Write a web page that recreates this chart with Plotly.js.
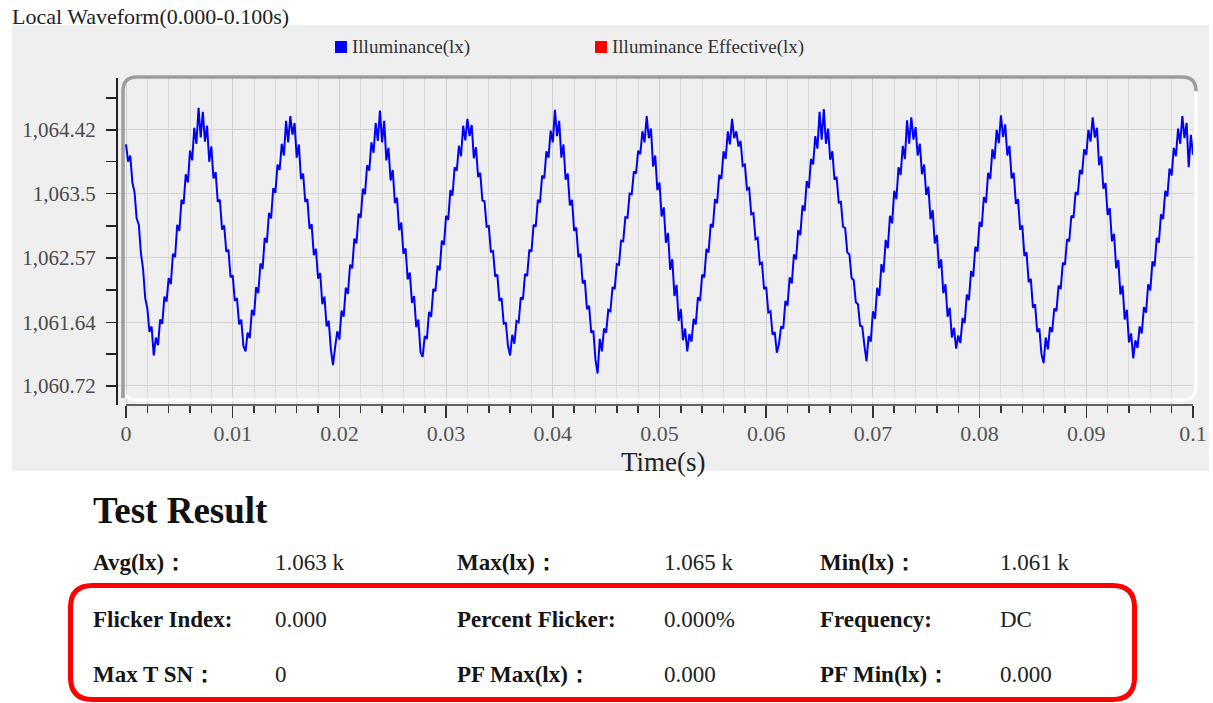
<!DOCTYPE html>
<html>
<head>
<meta charset="utf-8">
<script src="https://cdn.plot.ly/plotly-3.0.1.min.js"></script>
<style>
  html, body { margin: 0; padding: 0; background: #ffffff; }
  #chart { width: 1213px; height: 703px; }
</style>
</head>
<body>
<div id="chart"></div>
<script>
// ---------------- DATA ----------------
const chartTitle = 'Local Waveform(0.000-0.100s)';
const seriesNames = ['Illuminance(lx)', 'Illuminance Effective(lx)'];
const seriesColors = ['#0000ff', '#ff0000'];
const xAxisTitle = 'Time(s)';
const sampleStep = 0.0002; // s between samples (0 .. 0.1 s)

// Illuminance (lx), one sample every 0.2 ms
const illuminanceLux = [
  1064.21,1063.96,1064.05,1063.66,1063.52,1063.14,1063.05,1062.64,1062.41,1061.99,1061.84,1061.50,1061.58,1061.16,
  1061.42,1061.31,1061.68,1061.62,1062.01,1061.94,1062.28,1062.19,1062.63,1062.58,1063.05,1062.96,1063.41,1063.35,1063.78,1063.66,1064.12,1063.98,1064.45,1064.22,1064.74,1064.31,
  1064.68,1064.25,1064.48,1063.96,1064.18,1063.72,1063.81,1063.38,1063.41,1062.98,1063.04,1062.66,1062.69,1062.29,1062.32,1061.95,1061.99,1061.61,1061.68,1061.30,1061.22,
  1061.49,1061.41,1061.82,1061.74,1062.15,1062.06,1062.49,1062.41,1062.86,1062.79,1063.22,1063.14,1063.58,1063.51,1063.92,1063.84,1064.22,1064.05,1064.55,1064.24,1064.62,
  1064.35,1064.52,1064.02,1064.21,1063.71,1063.79,1063.38,1063.42,1062.99,1063.06,1062.61,1062.70,1062.27,1062.35,1061.90,1062.01,1061.58,1061.66,1061.25,1061.02,
  1061.28,1061.51,1061.39,1061.81,1061.72,1062.14,1062.05,1062.47,1062.42,1062.85,1062.78,1063.21,1063.15,1063.57,1063.49,1063.91,1063.83,1064.24,1064.09,1064.52,1064.26,1064.70,
  1064.24,1064.55,1063.98,1064.16,1063.69,1063.84,1063.36,1063.44,1062.97,1063.08,1062.63,1062.71,1062.26,1062.36,1061.92,1062.02,1061.57,1061.68,1061.21,1061.14,
  1061.44,1061.40,1061.79,1061.72,1062.12,1062.09,1062.46,1062.39,1062.82,1062.76,1063.18,1063.12,1063.55,1063.47,1063.88,1063.83,1064.19,1064.04,1064.48,1064.27,1064.58,
  1064.33,1064.49,1064.01,1064.17,1063.74,1063.80,1063.40,1063.39,1063.02,1063.03,1062.66,1062.67,1062.30,1062.33,1061.95,1061.99,1061.62,1061.63,1061.30,1061.16,
  1061.46,1061.33,1061.66,1061.64,1062.00,1061.97,1062.34,1062.31,1062.69,1062.66,1063.05,1063.02,1063.41,1063.37,1063.76,1063.72,1064.11,1064.02,1064.41,1064.24,1064.71,1064.33,
  1064.55,1064.02,1064.21,1063.70,1063.79,1063.33,1063.41,1062.96,1063.01,1062.58,1062.63,1062.20,1062.25,1061.83,1061.88,1061.49,1061.52,1061.10,1060.90,
  1061.40,1061.22,1061.55,1061.49,1061.82,1061.80,1062.15,1062.12,1062.48,1062.47,1062.82,1062.81,1063.16,1063.15,1063.50,1063.49,1063.82,1063.79,1064.12,1064.07,1064.40,1064.24,1064.62,
  1064.30,1064.44,1063.89,1064.05,1063.55,1063.66,1063.17,1063.30,1062.79,1062.93,1062.40,1062.55,1062.02,1062.18,1061.66,1061.83,1061.38,1061.55,1061.22,
  1061.47,1061.36,1061.69,1061.61,1062.00,1061.95,1062.33,1062.29,1062.70,1062.65,1063.06,1063.01,1063.42,1063.36,1063.77,1063.71,1064.11,1064.00,1064.40,1064.21,1064.58,1064.30,
  1064.40,1064.18,1064.26,1063.90,1063.92,1063.56,1063.58,1063.20,1063.22,1062.84,1062.86,1062.48,1062.50,1062.12,1062.15,1061.78,1061.80,1061.46,1061.50,1061.20,
  1061.33,1061.58,1061.55,1061.95,1061.88,1062.29,1062.20,1062.62,1062.55,1062.97,1062.90,1063.33,1063.25,1063.68,1063.58,1064.00,1063.92,1064.33,1064.15,1064.68,1064.28,
  1064.72,1064.22,1064.44,1063.99,1064.11,1063.70,1063.74,1063.37,1063.38,1063.02,1063.00,1062.65,1062.62,1062.28,1062.25,1061.93,1061.90,1061.59,1061.58,1061.31,1061.08,
  1061.44,1061.36,1061.80,1061.69,1062.14,1062.02,1062.48,1062.36,1062.83,1062.71,1063.18,1063.07,1063.54,1063.42,1063.88,1063.77,1064.19,1064.00,1064.56,1064.22,1064.60,
  1064.28,1064.46,1064.05,1064.22,1063.78,1063.92,1063.48,1063.60,1063.13,1063.26,1062.78,1062.90,1062.42,1062.55,1062.06,1062.19,1061.72,1061.85,1061.42,1061.56,1061.26,
  1061.45,1061.34,1061.70,1061.63,1062.04,1061.96,1062.38,1062.30,1062.73,1062.66,1063.09,1063.02,1063.45,1063.37,1063.80,1063.71,1064.14,1064.00,1064.42,1064.23,1064.63,1064.32,
  1064.50,1064.05,1064.19,1063.72,1063.80,1063.35,1063.42,1062.98,1063.04,1062.60,1062.65,1062.22,1062.27,1061.85,1061.90,1061.50,1061.55,1061.18,1061.05,
  1061.42,1061.25,1061.57,1061.50,1061.84,1061.80,1062.17,1062.12,1062.50,1062.47,1062.84,1062.81,1063.18,1063.15,1063.52,1063.48,1063.84,1063.78,1064.14,1064.06,1064.42,1064.25,1064.60,
  1064.31,1064.45,1063.91,1064.04,1063.57,1063.65,1063.19,1063.29,1062.81,1062.92,1062.42,1062.54,1062.04,1062.17,1061.68,1061.82,1061.35,1061.48,1061.12,
  1061.38,1061.27,1061.58,1061.48,1061.86,1061.78,1062.19,1062.10,1062.52,1062.45,1062.86,1062.79,1063.20,1063.13,1063.54,1063.46,1063.86,1063.76,1064.16,1064.04,1064.44,1064.22,1064.62,
  1064.30,1064.52,1063.88,1064.35,1064.06
];
// Illuminance Effective (lx): no samples drawn in this window
const illuminanceEffectiveLux = [];

const yTickVals = [1060.72, 1061.64, 1062.57, 1063.5, 1064.42];
const yTickText = ['1,060.72', '1,061.64', '1,062.57', '1,063.5', '1,064.42'];
const yMinorTickVals = [1061.18, 1062.105, 1063.035, 1063.96, 1064.88];

const resultHeading = 'Test Result';
const summaryLabels = ['Avg(lx)：', 'Max(lx)：', 'Min(lx)：'];
const summaryValues = ['1.063 k', '1.065 k', '1.061 k'];
const flickerLabels = ['Flicker Index:', 'Percent Flicker:', 'Frequency:'];
const flickerValues = ['0.000', '0.000%', 'DC'];
const peakLabels = ['Max T SN：', 'PF Max(lx)：', 'PF Min(lx)：'];
const peakValues = ['0', '0.000', '0.000'];

// ---------------- LAYOUT HELPERS ----------------
const W = 1213, H = 703;
const PL = 118, PR = 1193, PT = 78, PB = 405; // plot area in pixels
const px = x => (x - PL) / (PR - PL);
const py = y => (PB - y) / (PB - PT);
const serif = '"Liberation Serif", "Times New Roman", "DejaVu Serif", serif';

const sampleTimes = illuminanceLux.map((_, i) => Math.round(i * sampleStep * 10000) / 10000);

function roundRect(l, t, r, b, rad) {
  const rx = rad;
  return 'M ' + px(l + rx) + ',' + py(t) +
    ' L ' + px(r - rx) + ',' + py(t) +
    ' Q ' + px(r) + ',' + py(t) + ' ' + px(r) + ',' + py(t + rx) +
    ' L ' + px(r) + ',' + py(b - rx) +
    ' Q ' + px(r) + ',' + py(b) + ' ' + px(r - rx) + ',' + py(b) +
    ' L ' + px(l + rx) + ',' + py(b) +
    ' Q ' + px(l) + ',' + py(b) + ' ' + px(l) + ',' + py(b - rx) +
    ' L ' + px(l) + ',' + py(t + rx) +
    ' Q ' + px(l) + ',' + py(t) + ' ' + px(l + rx) + ',' + py(t) + ' Z';
}

// plot frame (gray top/left, white bottom/right)
const fL = 123, fR = 1196, fT = 77, fB = 400, fr = 14;
const frameGray = 'M ' + px(fL) + ',' + py(fB - 2) +
  ' L ' + px(fL) + ',' + py(fT + fr) +
  ' Q ' + px(fL) + ',' + py(fT) + ' ' + px(fL + fr) + ',' + py(fT) +
  ' L ' + px(fR - fr) + ',' + py(fT) +
  ' Q ' + px(fR) + ',' + py(fT) + ' ' + px(fR) + ',' + py(fT + fr);
const frameWhite = 'M ' + px(fR) + ',' + py(fT + fr) +
  ' L ' + px(fR) + ',' + py(fB - fr) +
  ' Q ' + px(fR) + ',' + py(fB) + ' ' + px(fR - fr) + ',' + py(fB) +
  ' L ' + px(fL + fr) + ',' + py(fB) +
  ' Q ' + px(fL) + ',' + py(fB) + ' ' + px(fL) + ',' + py(fB - fr);

const shapes = [
  { type: 'rect', xref: 'paper', yref: 'paper', layer: 'below',
    x0: px(12), x1: px(1209), y0: py(471), y1: py(25),
    fillcolor: '#efefef', line: { width: 0 } },
  { type: 'path', xref: 'paper', yref: 'paper', path: frameWhite,
    line: { color: '#ffffff', width: 3 } },
  { type: 'path', xref: 'paper', yref: 'paper', path: frameGray,
    line: { color: '#9c9c9c', width: 3.5 } },
  { type: 'line', xref: 'x', yref: 'paper', x0: 0, x1: 0.1, y0: 0, y1: 0,
    line: { color: '#333333', width: 1.5 } },
  { type: 'path', xref: 'paper', yref: 'paper', path: roundRect(70.5, 585.5, 1134.5, 699.5, 22),
    line: { color: '#ff0000', width: 5 }, fillcolor: 'rgba(0,0,0,0)' }
];

const annotations = [];
function addText(text, x, y, size, bold, color, anchor) {
  annotations.push({
    xref: 'paper', yref: 'paper', x: px(x), y: py(y),
    xanchor: anchor || 'left', yanchor: 'middle', showarrow: false,
    text: bold ? '<b>' + text + '</b>' : text,
    font: { family: serif, size: size, color: color }
  });
}

// legend (square swatches + names)
const legendSwatchX = [335, 595], legendTextX = [350, 610], legendY = 47;
seriesNames.forEach((name, k) => {
  shapes.push({ type: 'rect', xref: 'paper', yref: 'paper',
    x0: px(legendSwatchX[k]), x1: px(legendSwatchX[k] + 12),
    y0: py(legendY + 6), y1: py(legendY - 6),
    fillcolor: seriesColors[k], line: { width: 0 } });
  addText(name, legendTextX[k], legendY, 19, false, '#333333');
});

addText(xAxisTitle, 663, 462, 27, false, '#222222', 'center');
addText(resultHeading, 91, 510, 37, true, '#111111');
const labelX = [91, 455, 818], valueX = [273, 662, 998], rowY = [562, 619, 674];
[[summaryLabels, summaryValues], [flickerLabels, flickerValues], [peakLabels, peakValues]].forEach((row, r) => {
  row[0].forEach((lab, c) => addText(lab, labelX[c], rowY[r], 23, true, '#151515'));
  row[1].forEach((val, c) => addText(val, valueX[c], rowY[r], 23, false, '#222222'));
});

const traces = [
  { type: 'scatter', mode: 'lines', x: sampleTimes, y: illuminanceLux,
    name: seriesNames[0], showlegend: false, hoverinfo: 'skip',
    line: { color: seriesColors[0], width: 2 } },
  { type: 'scatter', mode: 'lines', x: sampleTimes.slice(0, illuminanceEffectiveLux.length),
    y: illuminanceEffectiveLux, name: seriesNames[1], showlegend: false, hoverinfo: 'skip',
    line: { color: seriesColors[1], width: 2 } }
];

const layout = {
  width: W, height: H,
  margin: { l: PL, r: W - PR, t: PT, b: H - PB, pad: 0 },
  paper_bgcolor: '#ffffff',
  plot_bgcolor: 'rgba(0,0,0,0)',
  title: {
    text: chartTitle, xref: 'container', yref: 'container',
    x: 12 / W, xanchor: 'left', y: 1 - 16 / H, yanchor: 'middle',
    font: { family: serif, size: 22, color: '#222222' }
  },
  showlegend: false,
  xaxis: {
    range: [-0.00075, 0.1], tick0: 0, dtick: 0.01,
    showline: false, zeroline: false,
    ticks: 'outside', ticklen: 12, tickwidth: 1.5, tickcolor: '#333333',
    showgrid: true, gridcolor: '#cfcfcf', gridwidth: 1,
    minor: { tick0: 0, dtick: 0.002, ticks: 'outside', ticklen: 7, tickwidth: 1.5,
             tickcolor: '#333333', showgrid: true, gridcolor: '#dadada', gridwidth: 1 },
    tickfont: { family: serif, size: 22, color: '#555555' },
    ticklabelstandoff: -3
  },
  yaxis: {
    range: [1060.445, 1065.17],
    tickmode: 'array', tickvals: yTickVals, ticktext: yTickText,
    showline: true, linecolor: '#222222', linewidth: 2, zeroline: false,
    ticks: 'outside', ticklen: 10, tickwidth: 1.5, tickcolor: '#222222',
    showgrid: true, gridcolor: '#d2d2d2', gridwidth: 1,
    minor: { tickmode: 'array', tickvals: yMinorTickVals, ticks: 'outside', ticklen: 10,
             tickwidth: 1.5, tickcolor: '#222222', showgrid: false },
    tickfont: { family: serif, size: 21, color: '#4a4a4a' },
    ticklabelstandoff: 6
  },
  shapes: shapes,
  annotations: annotations
};

Plotly.newPlot('chart', traces, layout, { displayModeBar: false, staticPlot: true });
</script>
</body>
</html>
